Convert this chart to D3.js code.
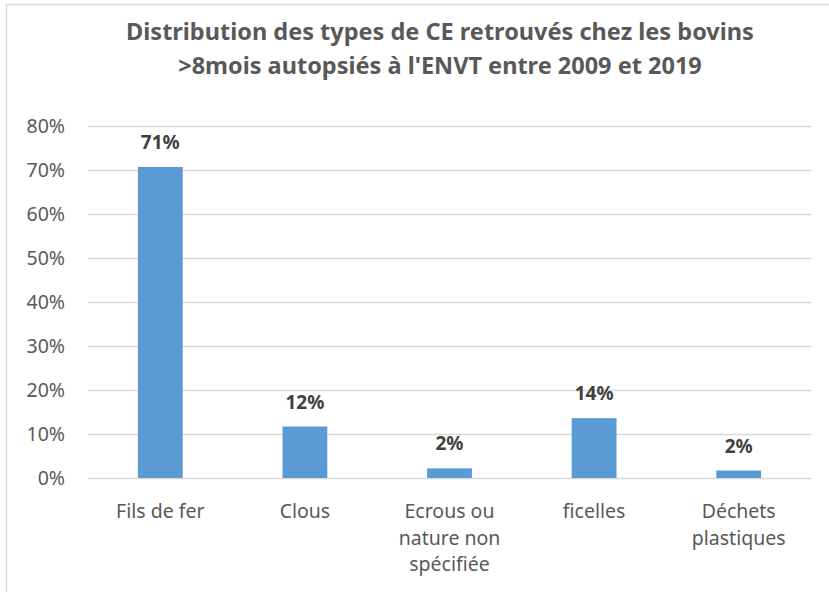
<!DOCTYPE html>
<html>
<head>
<meta charset="utf-8">
<script src="https://cdn.jsdelivr.net/npm/d3@7"></script>
<style>
  body { margin: 0; background: #fff; }
  svg { display: block; }
  text { font-family: "Noto Sans", "Liberation Sans", sans-serif; }
</style>
</head>
<body>
<div id="chart"></div>
<script>
// data
const categories = ['Fils de fer', 'Clous', 'Ecrous ou nature non spécifiée', 'ficelles', 'Déchets plastiques'];
const categoryLines = [['Fils de fer'], ['Clous'], ['Ecrous ou', 'nature non', 'spécifiée'], ['ficelles'], ['Déchets', 'plastiques']];
const values = [0.707, 0.117, 0.022, 0.136, 0.017];
const yTicks = [0, 0.1, 0.2, 0.3, 0.4, 0.5, 0.6, 0.7, 0.8];
const titleLines = ['Distribution des types de CE retrouvés chez les bovins', ">8mois autopsiés à l'ENVT entre 2009 et 2019"];

const width = 829, height = 592;
const margin = { top: 126, right: 18, bottom: 114, left: 88 };
const colors = { bar: '#5B9BD5', text: '#595959', label: '#404040', grid: '#D9D9D9' };

const svg = d3.select('#chart').append('svg')
  .attr('width', width)
  .attr('height', height);

// light frame round the chart (top and left edges only are visible)
svg.append('path')
  .attr('d', `M6.5,${height} V4.5 H${width}`)
  .attr('fill', 'none')
  .attr('stroke', colors.grid)
  .attr('stroke-width', 1.5);

const x = d3.scaleBand()
  .domain(categories)
  .range([margin.left, width - margin.right])
  .paddingInner(0.69)
  .paddingOuter(0.345);

const y = d3.scaleLinear()
  .domain([0, 0.8])
  .range([height - margin.bottom, margin.top]);

// gridlines + y labels
const yAxis = d3.axisLeft(y)
  .tickValues(yTicks)
  .tickFormat(d3.format('.0%'))
  .tickSize(-(width - margin.left - margin.right))
  .tickPadding(23);

const gy = svg.append('g')
  .attr('transform', `translate(${margin.left},0)`)
  .call(yAxis);
gy.select('.domain').remove();
gy.selectAll('.tick line').attr('stroke', colors.grid).attr('stroke-width', 1.5);
gy.selectAll('.tick text')
  .attr('fill', colors.text)
  .style('font-size', '19.5px');

// bars
svg.append('g')
  .selectAll('rect')
  .data(values)
  .join('rect')
  .attr('x', (d, i) => x(categories[i]))
  .attr('y', d => y(d))
  .attr('width', x.bandwidth())
  .attr('height', d => y(0) - y(d))
  .attr('fill', colors.bar);

// value labels
svg.append('g')
  .selectAll('text')
  .data(values)
  .join('text')
  .attr('x', (d, i) => x(categories[i]) + x.bandwidth() / 2)
  .attr('y', d => y(d) - 18)
  .attr('text-anchor', 'middle')
  .attr('fill', colors.label)
  .style('font-size', '19px')
  .style('font-weight', 'bold')
  .text(d => d3.format('.0%')(d));

// category labels
const cat = svg.append('g')
  .selectAll('text')
  .data(categories)
  .join('text')
  .attr('x', d => x(d) + x.bandwidth() / 2)
  .attr('y', 518)
  .attr('text-anchor', 'middle')
  .attr('fill', colors.text)
  .style('font-size', '19.5px');
cat.selectAll('tspan')
  .data((d, i) => categoryLines[i])
  .join('tspan')
  .attr('x', function () { return d3.select(this.parentNode).attr('x'); })
  .attr('dy', (d, i) => i === 0 ? 0 : 26.7)
  .text(d => d);

// title
svg.append('text')
  .attr('x', 440)
  .attr('y', 40)
  .attr('text-anchor', 'middle')
  .attr('fill', colors.text)
  .style('font-size', '23.5px')
  .style('font-weight', 'bold')
  .selectAll('tspan')
  .data(titleLines)
  .join('tspan')
  .attr('x', 440)
  .attr('dy', (d, i) => i === 0 ? 0 : 34)
  .text(d => d);
</script>
</body>
</html>
